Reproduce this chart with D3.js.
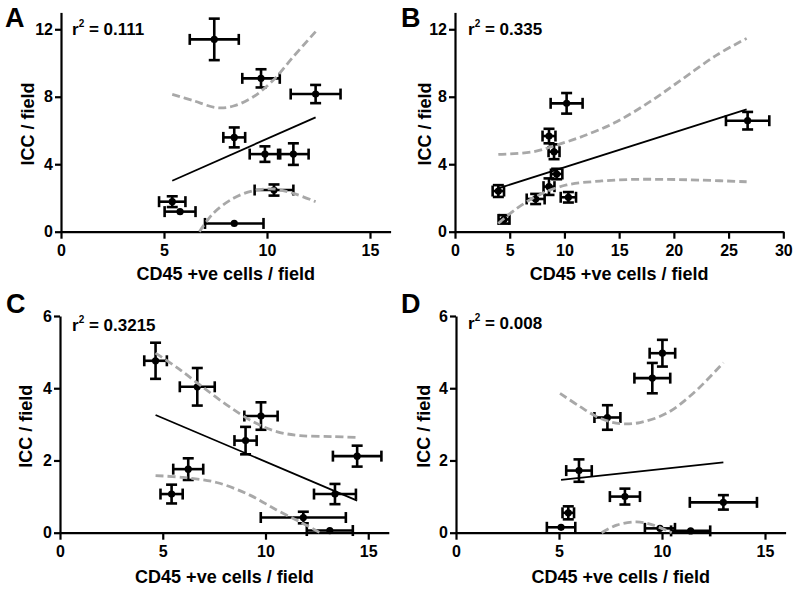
<!DOCTYPE html>
<html><head><meta charset="utf-8">
<script src="https://cdn.jsdelivr.net/npm/d3@7"></script>
<style>
body{margin:0;background:#fff}
svg text{font-family:"Liberation Sans",Arial,Helvetica,sans-serif;font-weight:bold;fill:#000}
</style>
</head><body>
<svg id="chart" width="800" height="589"></svg>
<script>
// ---- Panel A ----
const aX    = [7.44, 9.71, 12.36, 8.41, 9.90, 11.28, 10.34, 5.40, 5.78, 8.41];
const aY    = [11.40, 9.09, 8.16, 5.59, 4.60, 4.60, 2.47, 1.78, 1.19, 0.49];
const aXErr = [1.19, 0.91, 1.21, 0.53, 0.74, 0.74, 0.94, 0.64, 0.75, 1.42];
const aYErr = [1.23, 0.54, 0.54, 0.59, 0.46, 0.64, 0.33, 0.32, 0, 0];
const aFit  = [[5.40, 3.02], [12.36, 6.78]];
const aUpper = [[5.40,8.14],[6.42,7.77],[7.56,7.35],[8.37,7.45],[9.34,8.00],[10.31,8.99],[11.28,10.38],[12.36,11.86]];
const aLower = [[6.72,0],[7.39,1.09],[8.37,1.98],[9.34,2.43],[10.34,2.53],[11.28,2.27],[12.36,1.78]];

// ---- Panel B ----
const bX    = [10.2, 26.74, 8.59, 9.05, 9.29, 3.96, 8.59, 7.37, 10.36, 4.48];
const bY    = [7.61, 6.58, 5.67, 4.74, 3.42, 2.41, 2.67, 1.94, 2.04, 0.73];
const bXErr = [1.46, 1.98, 0.59, 0.50, 0.52, 0.52, 0.50, 0.82, 0.70, 0.50];
const bYErr = [0.61, 0.52, 0.43, 0.44, 0.31, 0.35, 0.49, 0.30, 0.31, 0.25];
const bFit  = [[3.96, 2.57], [26.65, 7.25]];
const bUpper = [[3.96,4.58],[7.16,4.74],[9.29,5.14],[11.73,5.67],[14.77,6.52],[17.82,7.71],[20.87,9.09],[23.91,10.47],[26.65,11.46]];
const bLower = [[3.96,0.49],[5.64,1.38],[7.77,2.21],[10.2,2.77],[13.25,3.00],[16.3,3.10],[19.34,3.10],[22.39,3.06],[26.65,2.96]];

// ---- Panel C ----
const cX    = [4.65, 6.68, 9.78, 9.03, 14.46, 6.24, 5.43, 13.38, 11.84, 13.13];
const cY    = [4.76, 4.04, 3.23, 2.55, 2.12, 1.76, 1.07, 1.07, 0.42, 0.06];
const cXErr = [0.55, 0.85, 0.81, 0.54, 1.18, 0.73, 0.54, 1.02, 2.07, 1.12];
const cYErr = [0.50, 0.52, 0.38, 0.38, 0.29, 0.30, 0.26, 0.28, 0.16, 0];
const cFit  = [[4.65, 3.26], [14.46, 0.89]];
const cUpper = [[4.65,4.97],[5.68,4.58],[6.81,4.09],[8.11,3.54],[9.4,3.07],[10.54,2.80],[11.68,2.69],[13.3,2.66],[14.46,2.64]];
const cLower = [[4.65,1.58],[6.0,1.53],[7.62,1.39],[9.24,1.04],[10.54,0.63],[11.68,0.30],[12.65,0]];

// ---- Panel D ----
const dX    = [10.02, 9.53, 7.35, 5.97, 8.20, 12.98, 5.45, 5.10, 9.90, 11.39];
const dY    = [4.97, 4.28, 3.19, 1.72, 1.00, 0.84, 0.55, 0.15, 0.12, 0.05];
const dXErr = [0.62, 0.87, 0.63, 0.62, 0.73, 1.63, 0.28, 0.69, 0.73, 0.95];
const dYErr = [0.37, 0.42, 0.34, 0.31, 0.22, 0.20, 0.18, 0, 0, 0];
const dFit  = [[5.10, 1.46], [12.98, 1.95]];
const dUpper = [[5.05,3.86],[6.02,3.49],[6.99,3.17],[7.96,3.02],[8.93,3.05],[10.23,3.31],[11.52,3.86],[12.98,4.71]];
const dLower = [[7.07,0],[7.8,0.21],[8.77,0.30],[9.58,0.21],[10.47,0]];

// ---- Labels / ticks ----
const panelLabels = ["A", "B", "C", "D"];
const r2Values = ["0.111", "0.335", "0.3215", "0.008"];
const xTicks16 = [0, 5, 10, 15];
const xTicks30 = [0, 5, 10, 15, 20, 25, 30];
const yTicks13 = [0, 4, 8, 12];
const yTicks6 = [0, 2, 4, 6];
const xTitle = "CD45 +ve cells / field";
const yTitle = "ICC / field";

const panels = [
  {lab:0, x:aX, y:aY, xe:aXErr, ye:aYErr, fit:aFit, up:aUpper, lo:aLower,
   xd:[0,16], xr:[61,390.6], xt:xTicks16, yd:[0,13], yr:[231.7,12.4], yt:yTicks13,
   labX:5, labY:27, r2X:72, r2Y:35, yTitleX:34, xTitleY:280},
  {lab:1, x:bX, y:bY, xe:bXErr, ye:bYErr, fit:bFit, up:bUpper, lo:bLower,
   xd:[0,30], xr:[455,783.3], xt:xTicks30, yd:[0,13], yr:[231.7,12.4], yt:yTicks13,
   labX:401, labY:27, r2X:468, r2Y:35, yTitleX:431, xTitleY:280},
  {lab:2, x:cX, y:cY, xe:cXErr, ye:cYErr, fit:cFit, up:cUpper, lo:cLower,
   xd:[0,16], xr:[60,388.8], xt:xTicks16, yd:[0,6], yr:[532.7,316], yt:yTicks6,
   labX:6, labY:313, r2X:72, r2Y:331, yTitleX:32, xTitleY:583},
  {lab:3, x:dX, y:dY, xe:dXErr, ye:dYErr, fit:dFit, up:dUpper, lo:dLower,
   xd:[0,16], xr:[456,785.6], xt:xTicks16, yd:[0,6], yr:[532.7,316], yt:yTicks6,
   labX:401, labY:313, r2X:468, r2Y:329, yTitleX:430, xTitleY:583}
];

const svg = d3.select("#chart");
const CAP = 5.5;

panels.forEach(p => {
  const g = svg.append("g");
  const xs = d3.scaleLinear().domain(p.xd).range(p.xr);
  const ys = d3.scaleLinear().domain(p.yd).range(p.yr);

  // axes
  const xAxis = d3.axisBottom(xs).tickValues(p.xt).tickFormat(d3.format("d"))
    .tickSize(7).tickPadding(6).tickSizeOuter(0);
  const yAxis = d3.axisLeft(ys).tickValues(p.yt).tickFormat(d3.format("d"))
    .tickSize(6).tickPadding(2).tickSizeOuter(0);
  const gx = g.append("g").attr("transform", `translate(0,${p.yr[0]})`).call(xAxis);
  const gy = g.append("g").attr("transform", `translate(${p.xr[0]},0)`).call(yAxis);
  [gx, gy].forEach(a => {
    a.select(".domain").attr("stroke", "#000").attr("stroke-width", 2.2);
    a.selectAll(".tick line").attr("stroke", "#000").attr("stroke-width", 2.2);
    a.selectAll(".tick text").attr("font-size", 16).attr("font-family", "Liberation Sans, Arial, sans-serif")
      .attr("font-weight", "bold").attr("fill", "#000");
  });

  const pts = p.x.map((v, i) => ({x: v, y: p.y[i], xe: p.xe[i], ye: p.ye[i]}));

  // error bars
  const eb = g.append("g").attr("stroke", "#000").attr("stroke-width", 2.6).attr("fill", "none");
  pts.forEach(d => {
    const cx = xs(d.x), cy = ys(d.y);
    if (d.xe > 0) {
      const x1 = xs(d.x - d.xe), x2 = xs(d.x + d.xe);
      eb.append("line").attr("x1", x1).attr("x2", x2).attr("y1", cy).attr("y2", cy);
      eb.append("line").attr("x1", x1).attr("x2", x1).attr("y1", cy - CAP).attr("y2", cy + CAP);
      eb.append("line").attr("x1", x2).attr("x2", x2).attr("y1", cy - CAP).attr("y2", cy + CAP);
    }
    if (d.ye > 0) {
      const y1 = ys(d.y - d.ye), y2 = ys(d.y + d.ye);
      eb.append("line").attr("x1", cx).attr("x2", cx).attr("y1", y1).attr("y2", y2);
      eb.append("line").attr("x1", cx - CAP).attr("x2", cx + CAP).attr("y1", y1).attr("y2", y1);
      eb.append("line").attr("x1", cx - CAP).attr("x2", cx + CAP).attr("y1", y2).attr("y2", y2);
    }
  });
  g.append("g").selectAll("circle").data(pts).join("circle")
    .attr("cx", d => xs(d.x)).attr("cy", d => ys(d.y)).attr("r", 3.6).attr("fill", "#000");

  // regression line
  const line = d3.line().x(d => xs(d[0])).y(d => ys(d[1]));
  g.append("path").attr("d", line(p.fit)).attr("stroke", "#000").attr("stroke-width", 1.8).attr("fill", "none");

  // confidence bands
  const curve = d3.line().x(d => xs(d[0])).y(d => ys(d[1])).curve(d3.curveCatmullRom.alpha(0.5));
  [p.up, p.lo].forEach(b => {
    g.append("path").attr("d", curve(b)).attr("stroke", "#a8a8a8").attr("stroke-width", 2.8)
      .attr("stroke-dasharray", "8,4").attr("fill", "none");
  });

  // texts
  g.append("text").attr("x", p.labX).attr("y", p.labY).attr("font-size", 27).text(panelLabels[p.lab]);
  const r2 = g.append("text").attr("x", p.r2X).attr("y", p.r2Y).attr("font-size", 17);
  r2.append("tspan").text("r");
  r2.append("tspan").attr("font-size", 10).attr("dy", -8).text("2");
  r2.append("tspan").attr("dy", 8).text(" = " + r2Values[p.lab]);
  g.append("text").attr("x", (p.xr[0] + p.xr[1]) / 2).attr("y", p.xTitleY)
    .attr("text-anchor", "middle").attr("font-size", 18).text(xTitle);
  g.append("text").attr("transform", `translate(${p.yTitleX},${(p.yr[0] + p.yr[1]) / 2 + 2}) rotate(-90)`)
    .attr("text-anchor", "middle").attr("font-size", 18).text(yTitle);
});
</script>
</body></html>
